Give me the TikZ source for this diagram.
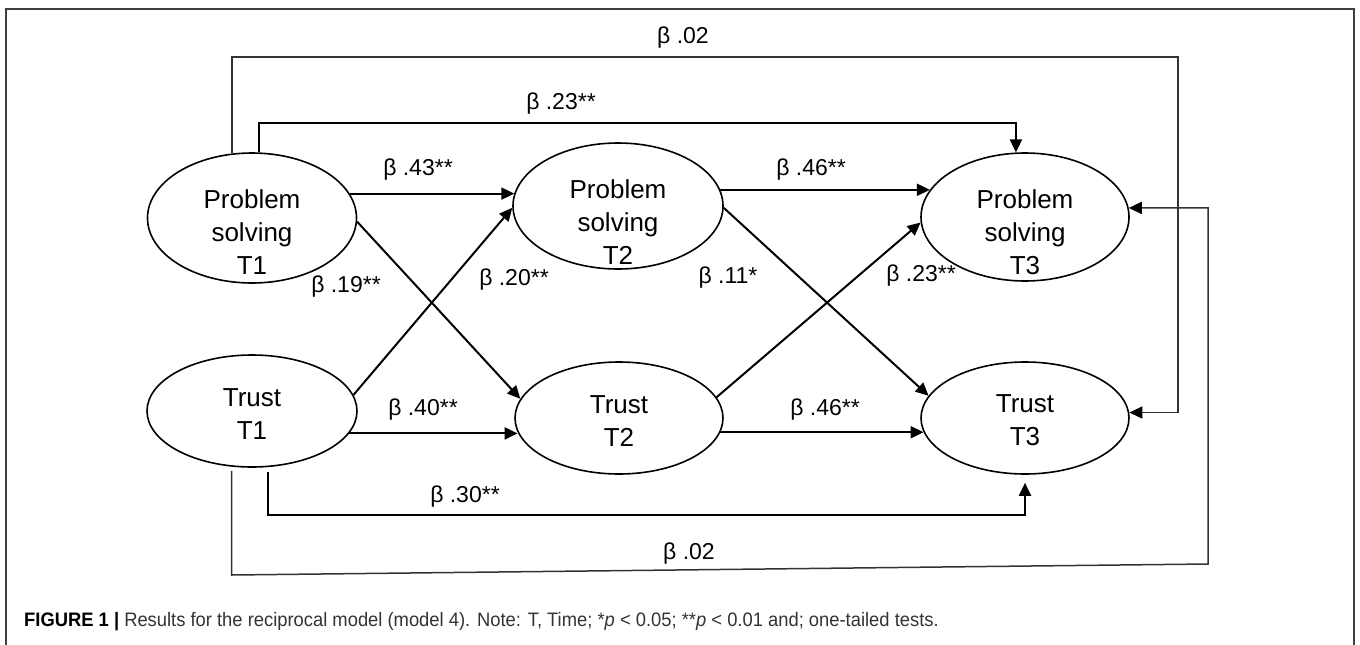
\documentclass[tikz,border=0pt]{standalone}
\usepackage{fontspec}
\setmainfont{Liberation Sans}
\usetikzlibrary{shapes.geometric,arrows.meta,calc}
\begin{document}
\begin{tikzpicture}[x=1pt,y=-1pt,
  latent/.style={draw=black, line width=1.6pt, ellipse, inner sep=0pt},
  vtxt/.style={align=center, font=\fontsize{26}{33}\selectfont, inner sep=0pt},
  coef/.style={font=\fontsize{23}{23}\selectfont, inner sep=0pt},
  tip/.style={-{Triangle[length=13pt,width=12pt,fill=black,color=black]}},
  path/.style={draw=black, line width=2pt, tip},
  longpath/.style={draw=black!80, line width=1.5pt, tip},
]
\useasboundingbox (0,0) rectangle (1360,645);
\draw[line width=1.5pt, black!75] (6,645) -- (6,9) -- (1354,9) -- (1354,645);

% latent variables
\node[latent, minimum width=209pt, minimum height=130pt] (ps1) at (252,218) {};
\node[latent, minimum width=210pt, minimum height=126pt] (ps2) at (618,206) {};
\node[latent, minimum width=208pt, minimum height=128pt] (ps3) at (1025,217) {};
\node[latent, minimum width=210pt, minimum height=112pt] (tr1) at (252,411) {};
\node[latent, minimum width=208pt, minimum height=112pt] (tr2) at (619,418) {};
\node[latent, minimum width=208pt, minimum height=112pt] (tr3) at (1025,418) {};

\node[vtxt] (ps1t) at (252,232) {Problem\\solving\\T1};
\node[vtxt] (ps2t) at (618,222) {Problem\\solving\\T2};
\node[vtxt] (ps3t) at (1025,232) {Problem\\solving\\T3};
\node[vtxt] (tr1t) at (252,414) {Trust\\T1};
\node[vtxt] (tr2t) at (619,421) {Trust\\T2};
\node[vtxt] (tr3t) at (1025,420) {Trust\\T3};

% helper coordinates
\coordinate (t02) at (1178,57);
\coordinate (t23) at (0,123);
\coordinate (b30) at (0,515);
\coordinate (bl02) at (0,575);
\coordinate (br02) at (1208,564);

% autoregressive and cross-lagged paths
\draw[path] (ps1.14) -- (ps1.14 -| ps2.173);
\draw[path] (ps2.9) -- (ps2.9 -| ps3.164);
\draw[path] (tr1.-13) -- (tr1.-13 -| tr2.188);
\draw[path] (tr2.-8) -- (tr2.-8 -| tr3.188);
\draw[path] (ps1.-2) -- (tr2.169);
\draw[path] (tr1.9) -- (ps2.181);
\draw[path] (ps2.-1) -- (tr3.167);
\draw[path] (tr2.12) -- (ps3.183);

% T1 -> T3 paths
\draw[path] (ps1.84) -- (ps1.84 |- t23) -| (ps3.98);
\draw[path, shorten <=5pt, shorten >=8pt] (tr1.-74) |- (tr3.south |- b30) -- (tr3.south);
\draw[longpath] (ps1.107) |- (t02) |- (tr3.3);
\draw[longpath, shorten <=4pt] (tr1.-110) -- (tr1.-110 |- bl02) -- (br02) |- (ps3.5);

% coefficients
\node[coef] (c1) at (683,38) {β .02};
\node[coef] (c2) at (561,104) {β .23**};
\node[coef] (c3) at (418,170) {β .43**};
\node[coef] (c4) at (811,170) {β .46**};
\node[coef] (c5) at (346,287) {β .19**};
\node[coef] (c6) at (514,280) {β .20**};
\node[coef] (c7) at (728,278) {β .11*};
\node[coef] (c8) at (921,276) {β .23**};
\node[coef] (c9) at (423,410) {β .40**};
\node[coef] (c10) at (825,410) {β .46**};
\node[coef] (c11) at (465,497) {β .30**};
\node[coef] (c12) at (689,554) {β .02};

% caption
\node[anchor=west, inner sep=0pt, font=\fontsize{19.5}{19.5}\selectfont, text=black!80] (cap) at (24,622)
  {\scalebox{0.942}[1]{\textbf{\color{black}FIGURE 1 |} Results for the reciprocal model (model 4). Note: T, Time; *\textit{p} < 0.05; **\textit{p} < 0.01 and; one-tailed tests.}};
\end{tikzpicture}
\end{document}
